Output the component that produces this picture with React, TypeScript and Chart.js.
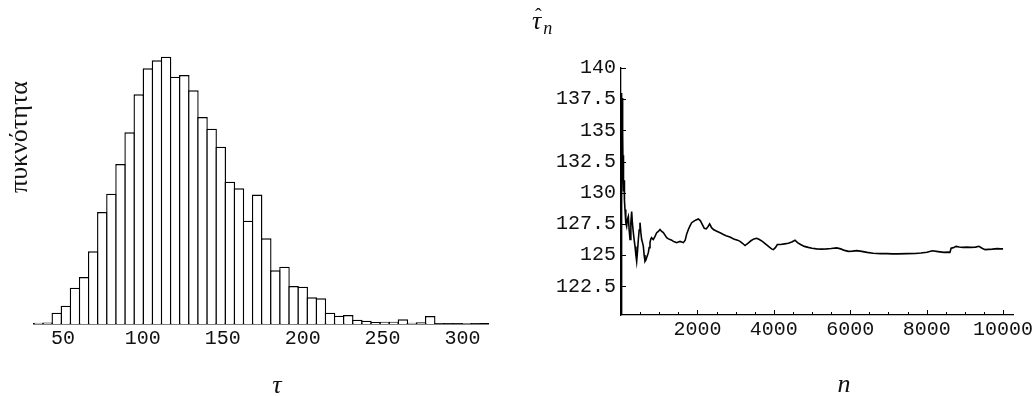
import React, { useEffect, useRef } from "react";
import { Chart, registerables } from "chart.js";

Chart.register(...registerables);

// ---- Histogram of τ (equal-width bins starting at BIN_START) ----
const BIN_START = 31.9;
const BIN_WIDTH = 5.7;
const TAU_MAX = 316;
const binHeights = [
  1.3, 1.5, 11.3, 18.3, 36.3, 47, 72.7, 112, 130.3, 160,
  191.7, 229.7, 255.7, 263.7, 267.3, 247.3, 249, 233.7, 207, 195.3,
  177.3, 142.3, 135.7, 103.3, 129.5, 85.7, 53.7, 57.3, 38, 37.3,
  26.7, 25.7, 11.3, 8.3, 9, 4.3, 3.3, 2, 2.3, 2.3,
  4.7, 1.3, 1.7, 8, 0.7, 0.5, 0.5, 1, 0.5,
];
const HEIGHT_MAX = 284;
const tauTicks = [50, 100, 150, 200, 250, 300];

// ---- Running estimate τ̂_n against the sample size n ----
const sampleSizes = [
  1, 5, 10, 15, 20, 25, 30, 35, 40, 45, 50, 55, 60, 70, 80, 90, 105, 125, 148, 170,
  192, 214, 236, 258, 279, 300, 323, 345, 367, 390, 410, 432, 454, 476, 497, 520, 541, 563, 585, 606,
  628, 650, 672, 695, 715, 737, 759, 781, 803, 825, 846, 890, 934, 978, 1021, 1065, 1108, 1152, 1196, 1240,
  1283, 1327, 1370, 1414, 1457, 1500, 1545, 1590, 1632, 1680, 1720, 1763, 1806, 1850, 1900, 1950, 2024, 2080, 2130, 2180,
  2230, 2280, 2320, 2370, 2420, 2480, 2550, 2620, 2680, 2750, 2850, 2950, 3050, 3115, 3180, 3246, 3320, 3400, 3480, 3553,
  3620, 3700, 3780, 3860, 3940, 3988, 4040, 4092, 4180, 4280, 4380, 4470, 4555, 4620, 4700, 4800, 4900, 5000, 5122, 5250,
  5380, 5500, 5646, 5750, 5850, 5950, 6060, 6170, 6300, 6440, 6600, 6800, 6960, 7100, 7250, 7490, 7700, 7850, 8010, 8150,
  8300, 8450, 8560, 8610, 8640, 8700, 8770, 8850, 8950, 9050, 9150, 9280, 9370, 9450, 9530, 9620, 9720, 9850, 9930, 10000,
];
const runningMean = [
  120.3, 126.5, 134.5, 138.0, 137.4, 135.2, 137.6, 133.4, 136.1, 132.0, 134.8, 131.2, 133.0, 130.1, 131.0, 129.4, 128.65, 127.6, 127.3, 127.9,
  128.1, 127.0, 126.25, 127.6, 128.5, 127.5, 126.8, 126.2, 125.7, 125.0, 124.5, 125.3, 126.25, 127.0, 127.6, 126.8, 126.25, 126.0, 125.7, 125.0,
  124.5, 124.6, 124.8, 125.0, 125.2, 125.6, 126.0, 126.3, 126.4, 126.3, 126.25, 126.5, 126.8, 126.9, 127.05, 126.9, 126.8, 126.6, 126.4, 126.3,
  126.25, 126.2, 126.1, 126.05, 126.0, 126.05, 126.1, 126.05, 126.0, 126.2, 126.7, 127.05, 127.35, 127.6, 127.7, 127.8, 127.9, 127.75, 127.45, 127.15,
  127.1, 127.3, 127.5, 127.2, 127.05, 126.95, 126.85, 126.75, 126.65, 126.55, 126.45, 126.3, 126.2, 126.1, 125.95, 125.77, 125.95, 126.15, 126.3, 126.35,
  126.25, 126.1, 125.9, 125.7, 125.5, 125.44, 125.6, 125.85, 125.85, 125.9, 125.95, 126.05, 126.19, 126.0, 125.85, 125.7, 125.62, 125.55, 125.5, 125.48,
  125.5, 125.53, 125.58, 125.5, 125.38, 125.3, 125.32, 125.36, 125.3, 125.22, 125.15, 125.12, 125.12, 125.1, 125.1, 125.12, 125.13, 125.17, 125.23, 125.35,
  125.28, 125.22, 125.24, 125.22, 125.55, 125.6, 125.7, 125.65, 125.62, 125.64, 125.62, 125.64, 125.71, 125.55, 125.44, 125.46, 125.48, 125.52, 125.5, 125.5,
];
const N_MAX = 10260;
const MEAN_MIN = 120.2;
const MEAN_MAX = 140;
const nTicks = [2000, 4000, 6000, 8000, 10000];
const N_MINOR_STEP = 500;
const meanTicks = [122.5, 125, 127.5, 130, 132.5, 135, 137.5, 140];

const TICK_FONT = { family: "'Liberation Mono', 'DejaVu Sans Mono', monospace", size: 20 };
const TICK_COLOR = "#111";
const BAR_EDGE = 1.4;

// Tick marks pointing into the plot, drawn from the chart's own scales
const inwardTicks = {
  id: "inwardTicks",
  afterDraw(chart: any, _args: any, opts: any) {
    if (!opts || !opts.enabled) return;
    const { ctx, chartArea } = chart;
    const xs = chart.scales.x;
    const ys = chart.scales.y;
    ctx.save();
    ctx.strokeStyle = "#000";
    ctx.lineWidth = 1;
    ctx.beginPath();
    const xLine = chartArea.bottom;
    for (let v = N_MINOR_STEP; v <= N_MAX; v += N_MINOR_STEP) {
      const major = nTicks.includes(v);
      const len = major ? opts.majorLen : opts.minorLen;
      const px = Math.round(xs.getPixelForValue(v)) + 0.5;
      ctx.moveTo(px, xLine);
      ctx.lineTo(px, xLine - len);
    }
    const yLine = chartArea.left;
    meanTicks.forEach((v) => {
      const py = Math.round(ys.getPixelForValue(v)) + 0.5;
      ctx.moveTo(yLine, py);
      ctx.lineTo(yLine + opts.majorLen, py);
    });
    ctx.stroke();
    ctx.restore();
  },
};

const serif = "'Liberation Serif', 'DejaVu Serif', serif";

export default function App() {
  const histRef = useRef<HTMLCanvasElement | null>(null);
  const lineRef = useRef<HTMLCanvasElement | null>(null);

  useEffect(() => {
    document.body.style.margin = "0";
    const binCenters = binHeights.map((_, i) => BIN_START + BIN_WIDTH * (i + 0.5));
    const binPx = (452 * BIN_WIDTH) / (TAU_MAX - BIN_START);

    const hist = new Chart(histRef.current as HTMLCanvasElement, {
      type: "bar",
      data: {
        datasets: [
          {
            data: binCenters.map((x, i) => ({ x, y: binHeights[i] })),
            backgroundColor: "#ffffff",
            borderColor: "#000000",
            borderWidth: BAR_EDGE,
            // neighbouring bars overlap by one edge width so shared sides stay single lines
            barPercentage: (binPx + BAR_EDGE) / binPx,
            categoryPercentage: 1,
          },
        ],
      },
      options: {
        animation: false,
        responsive: false,
        events: [],
        layout: { padding: { left: 34, right: 29, top: 40, bottom: 0 } },
        plugins: { legend: { display: false }, tooltip: { enabled: false } },
        scales: {
          x: {
            type: "linear",
            offset: false,
            min: BIN_START,
            max: TAU_MAX,
            z: 1,
            grid: { display: false, drawTicks: false },
            border: { display: true, color: "#000", width: 1.5 },
            ticks: {
              font: TICK_FONT,
              color: TICK_COLOR,
              padding: 3,
              maxRotation: 0,
              autoSkip: false,
              callback: (v: any) => String(v),
            },
            afterBuildTicks: (s: any) => {
              s.ticks = tauTicks.map((value) => ({ value }));
            },
            afterFit: (s: any) => {
              s.height = 72;
              s.paddingLeft = 0;
              s.paddingRight = 0;
            },
          },
          y: {
            display: false,
            min: 0,
            max: HEIGHT_MAX,
          },
        },
      },
    } as any);

    const line = new Chart(lineRef.current as HTMLCanvasElement, {
      type: "line",
      data: {
        datasets: [
          {
            data: sampleSizes.map((x, i) => ({ x, y: runningMean[i] })),
            borderColor: "#000000",
            borderWidth: 1.6,
            pointRadius: 0,
            tension: 0,
            fill: false,
          },
        ],
      },
      plugins: [inwardTicks],
      options: {
        animation: false,
        responsive: false,
        events: [],
        layout: { padding: { left: 0, right: 21, top: 68, bottom: 0 } },
        plugins: {
          legend: { display: false },
          tooltip: { enabled: false },
          inwardTicks: { enabled: true, majorLen: 5, minorLen: 3 },
        } as any,
        scales: {
          x: {
            type: "linear",
            min: 0,
            max: N_MAX,
            grid: { display: false, drawTicks: false },
            border: { display: true, color: "#000", width: 1.3 },
            ticks: {
              font: TICK_FONT,
              color: TICK_COLOR,
              padding: 3,
              maxRotation: 0,
              autoSkip: false,
              callback: (v: any) => String(v),
            },
            afterBuildTicks: (s: any) => {
              s.ticks = nTicks.map((value) => ({ value }));
            },
            afterFit: (s: any) => {
              s.height = 81;
              s.paddingLeft = 0;
              s.paddingRight = 0;
            },
          },
          y: {
            type: "linear",
            min: MEAN_MIN,
            max: MEAN_MAX,
            grid: { display: false, drawTicks: false },
            border: { display: true, color: "#000", width: 1.3 },
            ticks: {
              font: TICK_FONT,
              color: TICK_COLOR,
              padding: 5,
              autoSkip: false,
              callback: (v: any) => String(v),
            },
            afterBuildTicks: (s: any) => {
              s.ticks = meanTicks.map((value) => ({ value }));
            },
            afterFit: (s: any) => {
              s.width = 104;
              s.paddingTop = 0;
              s.paddingBottom = 0;
            },
          },
        },
      },
    } as any);

    return () => {
      hist.destroy();
      line.destroy();
    };
  }, []);

  const label: React.CSSProperties = {
    position: "absolute",
    fontFamily: serif,
    color: "#111",
    lineHeight: 1,
    whiteSpace: "nowrap",
  };

  return (
    <div style={{ position: "relative", width: 1034, height: 396, background: "#fff", overflow: "hidden" }}>
      <canvas ref={histRef} width={517} height={396} style={{ position: "absolute", left: 0, top: 0 }} />
      <canvas ref={lineRef} width={517} height={396} style={{ position: "absolute", left: 517, top: 0 }} />
      <div
        style={{
          ...label,
          left: 19,
          top: 137,
          fontSize: 26,
          transform: "translate(-50%, -50%) rotate(-90deg)",
        }}
      >
        πυκνότητα
      </div>
      <div style={{ ...label, left: 277, top: 372, fontSize: 26, fontStyle: "italic", transform: "translateX(-50%)" }}>
        τ
      </div>
      <div style={{ ...label, left: 844, top: 371, fontSize: 26, fontStyle: "italic", transform: "translateX(-50%)" }}>
        n
      </div>
      <div style={{ ...label, left: 532, top: 8, fontSize: 26, fontStyle: "italic" }}>
        <span style={{ position: "relative" }}>
          τ
          <span style={{ position: "absolute", left: 3, top: 0, fontStyle: "normal", fontSize: 20 }}>ˆ</span>
        </span>
        <span style={{ fontSize: 18, position: "relative", top: 5, left: 2 }}>n</span>
      </div>
    </div>
  );
}
